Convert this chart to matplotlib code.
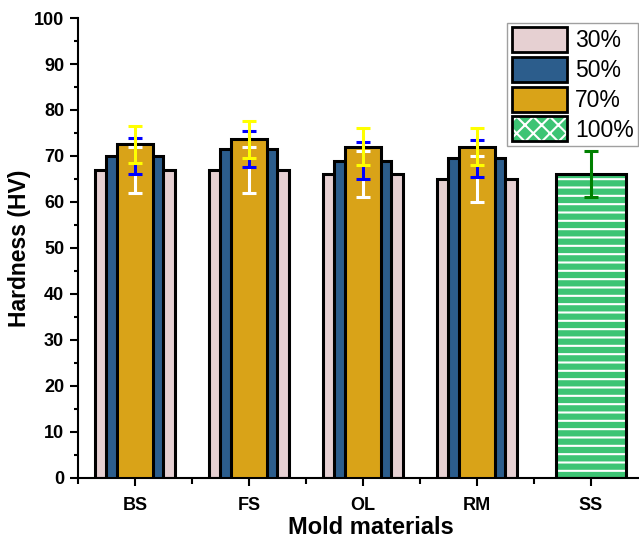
import matplotlib
matplotlib.use("Agg")
import matplotlib.pyplot as plt
from matplotlib.patches import Patch
from matplotlib.legend_handler import HandlerTuple
from matplotlib.ticker import MultipleLocator
import numpy as np

plt.rcParams["font.family"] = ["Liberation Sans", "DejaVu Sans"]
plt.rcParams["hatch.linewidth"] = 1.5

materials = ["BS", "FS", "OL", "RM", "SS"]
mixed = ["BS", "FS", "OL", "RM"]
h30 = [67, 67, 66, 65]
e30 = [5, 5, 5, 5]
h50 = [70, 71.5, 69, 69.5]
e50 = [4, 4, 4, 4]
h70 = [72.5, 73.6, 72, 72]
e70 = [4, 4, 4, 4]
h100 = [66]
e100 = [5]

c30, c50, c70, c100 = "#E6D0D2", "#2C5D8C", "#D9A318", "#3DC474"

fig = plt.figure(figsize=(6.39, 5.39), dpi=100)
# axes run a little past the right edge of the figure
ax = fig.add_axes([0.122, 0.1132, 0.917, 0.8534])

x = np.arange(len(mixed))
xs = np.array([len(mixed)])
ax.bar(x, h30, width=0.70, color=c30, edgecolor="black", linewidth=2.2, zorder=2)
ax.bar(x, h50, width=0.50, color=c50, edgecolor="black", linewidth=2.2, zorder=3)
ax.bar(x, h70, width=0.31, color=c70, edgecolor="black", linewidth=2.2, zorder=4)
# SS: green with white stripes, black outline drawn separately
ax.bar(xs, h100, width=0.61, color=c100, edgecolor="white", hatch="--", linewidth=0, zorder=2)
ax.bar(xs, h100, width=0.61, fill=False, edgecolor="black", linewidth=2.2, zorder=3)

eb = dict(fmt="none", elinewidth=2.2, capsize=4.7, capthick=2.2, zorder=6)
ax.errorbar(x, h30, yerr=e30, ecolor="white", **eb)
ax.errorbar(x, h50, yerr=e50, ecolor="#0000FF", **eb)
ax.errorbar(x, h70, yerr=e70, ecolor="#FFFF00", **eb)
ax.errorbar(xs, h100, yerr=e100, ecolor="#008000", **eb)

ax.set_xlim(-0.5, 4.64)
ax.set_ylim(0, 100)
ax.set_xticks(np.arange(len(materials)))
ax.set_xticklabels(materials, fontsize=13, fontweight="bold")
ax.xaxis.set_minor_locator(MultipleLocator(0.5))
ax.yaxis.set_major_locator(MultipleLocator(10))
ax.yaxis.set_minor_locator(MultipleLocator(5))
for lab in ax.get_yticklabels():
    lab.set_fontsize(13)
    lab.set_fontweight("bold")
ax.tick_params(which="major", direction="out", length=6, width=1.5, pad=4)
ax.tick_params(which="minor", direction="out", length=3, width=1.5)
ax.tick_params(axis="x", which="minor", length=4)
ax.tick_params(axis="x", which="major", pad=8)
for s in ("top", "right"):
    ax.spines[s].set_visible(False)
for s in ("left", "bottom"):
    ax.spines[s].set_linewidth(1.5)

ax.set_xlabel("Mold materials", fontsize=17, fontweight="bold", labelpad=1)
ax.set_ylabel("Hardness (HV)", fontsize=16.5, fontweight="bold", labelpad=2)

handles = [
    Patch(facecolor=c30, edgecolor="black", linewidth=2),
    Patch(facecolor=c50, edgecolor="black", linewidth=2),
    Patch(facecolor=c70, edgecolor="black", linewidth=2),
    (Patch(facecolor=c100, edgecolor="white", hatch="xx", linewidth=0),
     Patch(fill=False, edgecolor="black", linewidth=2)),
]
leg = ax.legend(handles, ["30%", "50%", "70%", "100%"],
                handler_map={tuple: HandlerTuple(ndivide=1, pad=0)},
                loc="upper right", bbox_to_anchor=(0.999, 0.958),
                bbox_transform=fig.transFigure,
                fontsize=16.5, frameon=True, fancybox=False,
                handlelength=2.4, handleheight=1.3, handletextpad=0.35,
                labelspacing=0.2, borderpad=0.2, borderaxespad=0.0)
leg.get_frame().set_edgecolor("#888888")
leg.get_frame().set_linewidth(1.0)

fig.savefig("out.png", dpi=100)
